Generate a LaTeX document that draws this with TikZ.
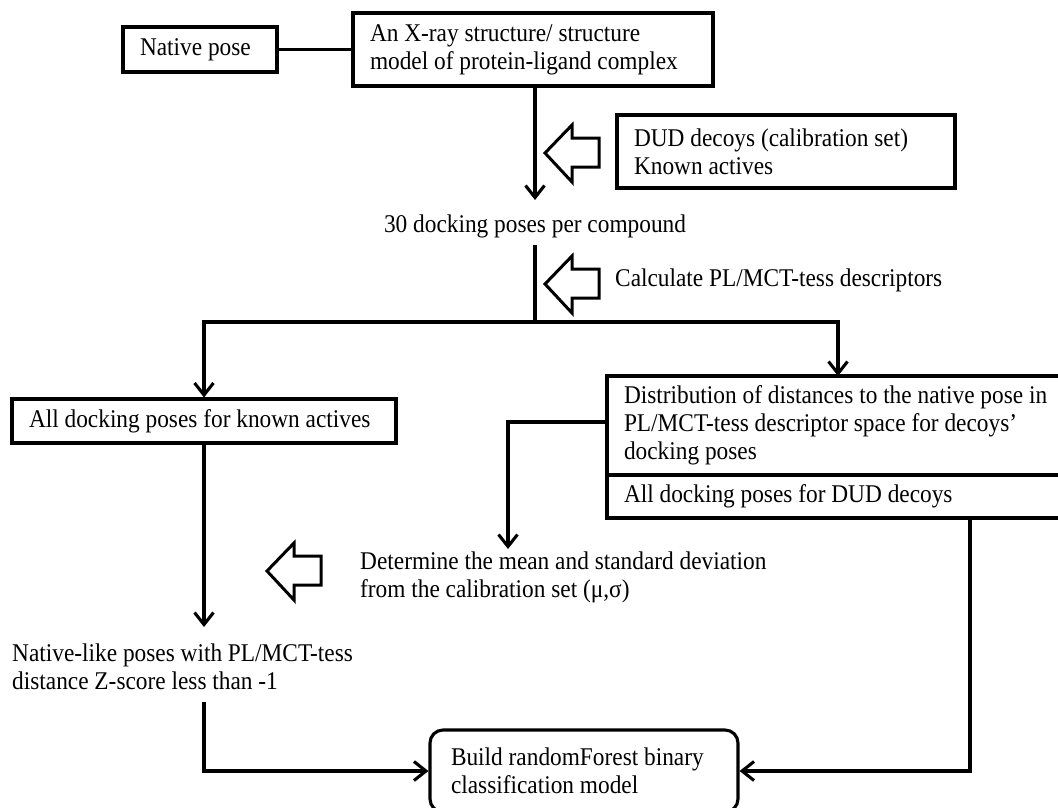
\documentclass[tikz,border=0pt]{standalone}
\usepackage{fontspec}
\setmainfont{Liberation Serif}[FakeStretch=0.915]
\usetikzlibrary{arrows.meta}
\tikzset{
  every node/.style={font=\fontsize{25.5}{28}\selectfont},
  lw/.style={line width=3.1pt},
  box/.style={draw, lw, align=flush left, inner xsep=17pt, inner ysep=0pt},
  plain/.style={inner sep=0pt, align=left},
  arr/.style={lw, -{Straight Barb[length=12pt,width=19pt]}},
  conn/.style={lw},
  blockarrow/.pic={\draw[line width=3pt, line join=miter]
     (0,0) -- (27,-28) -- (27,-15) -- (54,-15) -- (54,14) -- (27,14) -- (27,29) -- cycle;}
}
\begin{document}
\begin{tikzpicture}[x=1pt,y=-1pt]
\useasboundingbox (0,0) rectangle (1058,807);

% boxes
\node[box, text width=120pt, minimum height=45pt] (native) at (200,49.5) {Native pose};
\node[box, text width=326pt, minimum height=73pt] (xray) at (533,49.5)
  {An X-ray structure/ structure\\model of protein-ligand complex};
\node[box, text width=304pt, minimum height=73pt] (dudcal) at (786,151.5)
  {DUD decoys (calibration set)\\Known actives};
\node[plain] (dock) at (535,226) {30 docking poses per compound};
\node[plain, anchor=west] (calc) at (615,280) {Calculate PL/MCT-tess descriptors};
\node[box, text width=350pt, minimum height=44pt] (actives) at (204,421)
  {All docking poses for known actives};
\node[box, text width=430pt, minimum height=99pt] (dist) at (839,425.5)
  {Distribution of distances to the native pose in\\PL/MCT-tess descriptor space for decoys'\\docking poses};
\node[box, text width=430pt, minimum height=43pt] (dud) at (839,496.5)
  {All docking poses for DUD decoys};
\node[plain, anchor=west] (det) at (360,577)
  {Determine the mean and standard deviation\\from the calibration set (μ,σ)};
\node[plain, anchor=west] (nlike) at (12,667)
  {Native-like poses with PL/MCT-tess\\distance Z-score less than -1};
\node[box, rounded corners=13pt, inner xsep=21pt, text width=266pt, minimum height=82pt] (build) at (584,771)
  {Build randomForest binary\\classification model};

% coordinates for free ends
\coordinate (t1) at (535,200);
\coordinate (s2) at (535,245);
\coordinate (j) at (535,322);
\coordinate (rt) at (838,376);
\coordinate (dt) at (508,549);
\coordinate (la) at (204,627);
\coordinate (s3) at (204,702);
\coordinate (s4) at (970,518);

% connectors
\draw[conn] (native.east) -- (xray.west |- native.east);
\draw[arr] (xray.south -| t1) -- (t1);
\draw[conn] (s2) -- (j);
\draw[arr] (j) -| (actives.north);
\draw[arr] (j) -| (rt);
\draw[arr] ([yshift=3.5pt]dist.west) -| (dt);
\draw[arr] (actives.south) -- (la);
\draw[arr] (s3) |- (build.west);
\draw[arr] (s4) |- (build.east);

% hollow block arrows
\pic at (545,153) {blockarrow};
\pic at (545,284) {blockarrow};
\pic at (267,571) {blockarrow};
\end{tikzpicture}
\end{document}
